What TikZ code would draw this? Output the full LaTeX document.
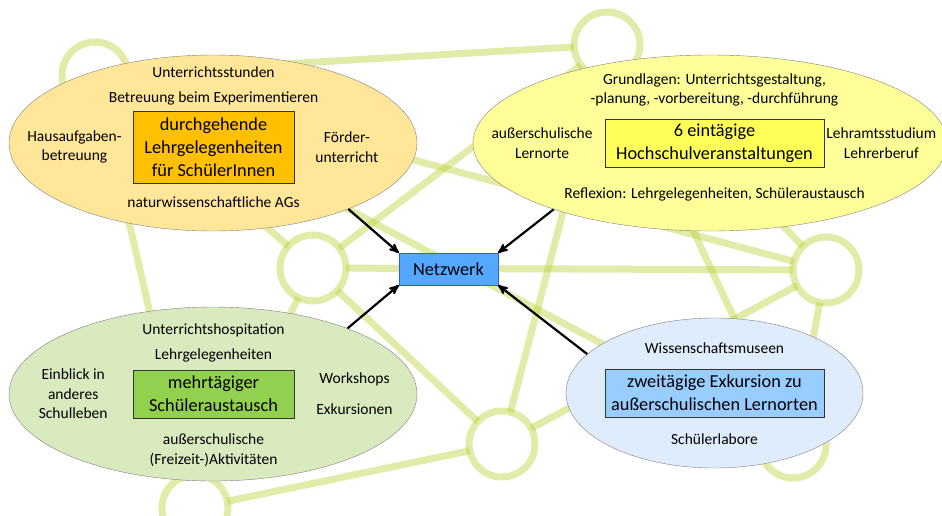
\documentclass[tikz,border=0pt]{standalone}
\usepackage{fontspec}
\setmainfont{Carlito}
\usetikzlibrary{arrows,shapes.geometric,positioning}
\definecolor{netline}{RGB}{190,210,60}
\definecolor{lehrfill}{RGB}{255,230,153}
\definecolor{lehrcore}{RGB}{255,192,0}
\definecolor{hochfill}{RGB}{255,255,153}
\definecolor{hochcore}{RGB}{255,255,90}
\definecolor{tauschfill}{RGB}{216,234,190}
\definecolor{tauschcore}{RGB}{146,208,80}
\definecolor{exkfill}{RGB}{222,236,252}
\definecolor{exkcore}{RGB}{153,204,255}
\definecolor{netzfill}{RGB}{85,168,255}
\definecolor{netzdraw}{RGB}{50,90,220}
\tikzset{style={>=stealth'}}
\tikzset{hub/.style={circle, draw=netline, draw opacity=0.45, line width=7pt, minimum size=66pt, inner sep=0pt, outer sep=0pt}}
\tikzset{link/.style={draw=netline, draw opacity=0.45, line width=7pt}}
\tikzset{field/.style={ellipse, draw=black!50, fill=#1, inner sep=0pt}}
\tikzset{core/.style={rectangle, draw=black!80, fill=#1, align=center, inner sep=2pt, font=\fontsize{18.3}{23}\selectfont}}
\tikzset{info/.style={align=center, inner sep=0pt, font=\fontsize{15.5}{19.5}\selectfont}}
\tikzset{feed/.style={->, line width=2.2pt}}

\begin{document}
\begin{tikzpicture}[x=1pt,y=-1pt]
    \useasboundingbox (0,0) rectangle (942,515);
    \clip (0,0) rectangle (942,515);

    % background net
    \node[hub] (a) at (95, 75)  {};
    \node[hub] (b) at (607, 45) {};
    \node[hub] (c) at (313, 268) {};
    \node[hub] (d) at (826, 270) {};
    \node[hub] (e) at (502, 444) {};
    \node[hub] (f) at (793, 445) {};
    \node[hub] (g) at (195, 508) {};
    \foreach \u/\v in {a/b,a/c,a/d,a/f,a/g,b/c,b/d,b/e,b/f,c/d,c/e,c/g,d/e,d/f,e/g}
        \draw[link] (\u) -- (\v);

    % durchgehende Lehrgelegenheiten
    \node[field=lehrfill, minimum width=408pt, minimum height=176pt] (lehr) at (213, 143) {};
    \node[core=lehrcore, minimum width=161pt, minimum height=72pt] (lehrkern) at (213.5, 147)
        {durchgehende\\Lehrgelegenheiten\\für SchülerInnen};
    \node[above = 33pt of lehrkern, info] {Unterrichtsstunden};
    \node[above = 5.5pt of lehrkern, info] {Betreuung beim Experimentieren};
    \node[left  = 11pt of lehrkern, info] {Hausaufgaben-\\betreuung};
    \node[right = 21pt of lehrkern, info] {Förder-\\unterricht};
    \node[below = 13.5pt of lehrkern, info] {naturwissenschaftliche AGs};

    % Hochschulveranstaltungen
    \node[field=hochfill, minimum width=474pt, minimum height=176pt] (hoch) at (710, 143) {};
    \node[core=hochcore, minimum width=219pt, minimum height=48pt] (hochkern) at (714.5, 143)
        {6 eintägige\\Hochschulveranstaltungen};
    \node[above = 12pt of hochkern, info] {Grundlagen: Unterrichtsgestaltung,\\-planung, -vorbereitung, -durchführung};
    \node[left  = 12pt of hochkern, info] {außerschulische\\Lernorte};
    \node[right = 2pt of hochkern, info] {Lehramtsstudium\\Lehrerberuf};
    \node[below = 20.5pt of hochkern, info] {Reflexion: Lehrgelegenheiten, Schüleraustausch};

    % Schüleraustausch
    \node[field=tauschfill, minimum width=408pt, minimum height=174pt] (tausch) at (213, 394) {};
    \node[core=tauschcore, minimum width=161pt, minimum height=48pt] (tauschkern) at (213.5, 394)
        {mehrtägiger\\Schüleraustausch};
    \node[above = 32.5pt of tauschkern, info] {Unterrichtshospitation};
    \node[above = 7.5pt of tauschkern, info] {Lehrgelegenheiten};
    \node[left  = 25pt of tauschkern, info] {Einblick in\\anderes\\Schulleben};
    \node[right = 22pt of tauschkern, info] {Workshops\\[11.5pt]Exkursionen};
    \node[below = 15.5pt of tauschkern, info] {außerschulische\\(Freizeit-)Aktivitäten};

    % Exkursion
    \node[field=exkfill, minimum width=297pt, minimum height=150pt] (exk) at (714.5, 393) {};
    \node[core=exkcore, minimum width=219pt, minimum height=48pt] (exkkern) at (714.5, 393)
        {zweitägige Exkursion zu\\außerschulischen Lernorten};
    \node[above = 14.5pt of exkkern, info] {Wissenschaftsmuseen};
    \node[below = 16.5pt of exkkern, info] {Schülerlabore};

    % Netzwerk
    \node[rectangle, draw=netzdraw, fill=netzfill, minimum width=99pt, minimum height=32pt,
          font=\fontsize{18.3}{23}\selectfont] (netz) at (448.5, 269) {Netzwerk};

    \draw[feed] (lehr.-26)    -- (netz.north west);
    \draw[feed] (hoch.-157.5) -- (netz.north east);
    \draw[feed] (tausch.26.7) -- (netz.south west);
    \draw[feed] (exk.163.5)   -- (netz.south east);
\end{tikzpicture}
\end{document}
